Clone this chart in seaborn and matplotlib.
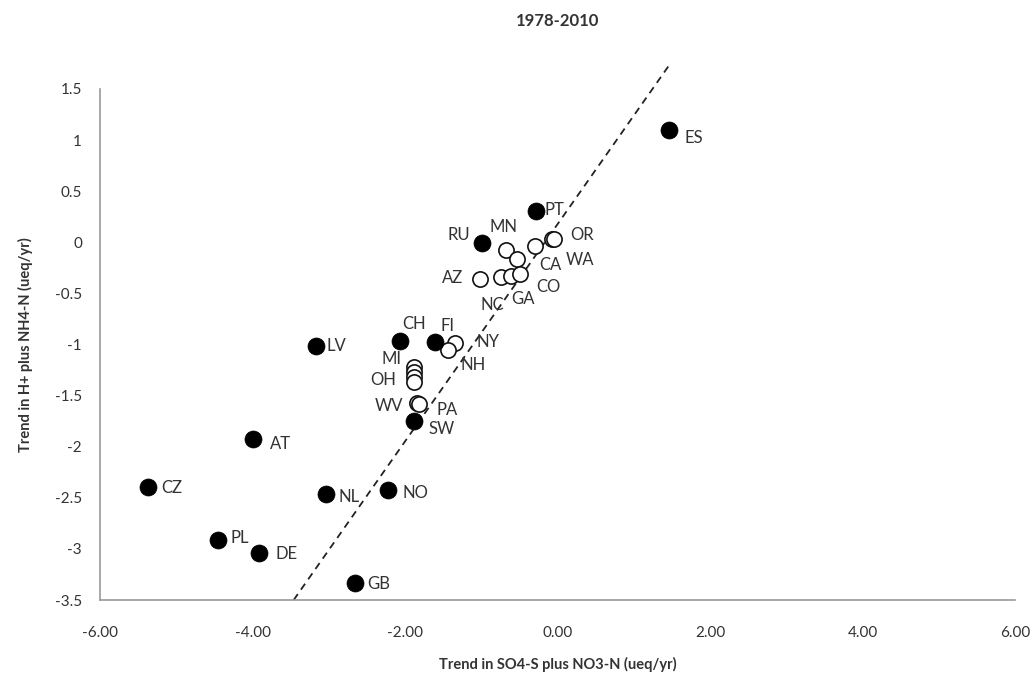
import matplotlib
matplotlib.use("Agg")
import matplotlib.pyplot as plt
import seaborn as sns
import pandas as pd

# Europe (filled) sites
eu_labels = ["ES", "PT", "RU", "LV", "CH", "FI", "SW", "AT", "CZ", "NL", "NO", "PL", "DE", "GB"]
eu_x = [1.46, -0.28, -0.99, -3.17, -2.07, -1.61, -1.88, -4.00, -5.37, -3.04, -2.22, -4.45, -3.91, -2.66]
eu_y = [1.10, 0.31, -0.01, -1.01, -0.97, -0.98, -1.75, -1.92, -2.39, -2.46, -2.42, -2.91, -3.04, -3.33]

# US (open) sites
us_labels = ["MN", "CA", "WA", "OR", "", "AZ", "NC", "GA", "CO", "NY", "NH", "MI", "", "OH", "", "WV", "PA"]
us_x = [-0.67, -0.53, -0.30, -0.07, -0.04, -1.02, -0.74, -0.61, -0.49, -1.34, -1.43, -1.88, -1.88, -1.88, -1.88, -1.84, -1.82]
us_y = [-0.08, -0.16, -0.04, 0.03, 0.03, -0.36, -0.34, -0.33, -0.31, -0.99, -1.05, -1.22, -1.27, -1.32, -1.37, -1.57, -1.58]

# dashed reference line
line_x = [-3.46, 1.49]
line_y = [-3.50, 1.76]

# label offsets in pixels (dx, dy)
offsets = {
    "ES": (25, -8), "PT": (18, 1), "RU": (-23, 8), "LV": (21, 0), "CH": (14, 17),
    "FI": (13, 16), "SW": (27, -8), "AT": (28, -5), "CZ": (24, -1), "NL": (23, -3),
    "NO": (27, -3), "PL": (22, 2), "DE": (27, -1), "GB": (24, -1),
    "MN": (-3, 23), "CA": (33, -6), "WA": (45, -14), "OR": (30, 4), "AZ": (-27, 1),
    "NC": (-9, -28), "GA": (12, -23), "CO": (28, -13), "NY": (33, 1), "NH": (25, -15),
    "MI": (-23, 8), "OH": (-31, -3), "WV": (-28, -3), "PA": (28, -6),
}

df = pd.DataFrame({
    "x": eu_x + us_x,
    "y": eu_y + us_y,
    "label": eu_labels + us_labels,
    "group": ["EU"] * len(eu_x) + ["US"] * len(us_x),
})

sns.set_style("white")
plt.rcParams["font.family"] = ["Lato", "DejaVu Sans"]

fig = plt.figure(figsize=(10.36, 6.89), dpi=100)
ax = fig.add_axes([100 / 1036, 1 - 600 / 689, 915 / 1036, 511 / 689])

ax.plot(line_x, line_y, ls=(0, (4, 3)), color="#222222", lw=1.3, zorder=1, clip_on=False)

sns.scatterplot(data=df[df.group == "US"], x="x", y="y", ax=ax, s=120,
                facecolor="white", edgecolor="#111111", linewidth=1.2, zorder=3, legend=False)
sns.scatterplot(data=df[df.group == "EU"], x="x", y="y", ax=ax, s=150,
                color="black", edgecolor="black", linewidth=0.5, zorder=4, legend=False)

for _, r in df.iterrows():
    if r["label"]:
        dx, dy = offsets[r["label"]]
        ax.annotate(r["label"], (r["x"], r["y"]), xytext=(dx, dy), textcoords="offset pixels",
                    ha="center", va="center", fontsize=12, color="#333333", zorder=5)

ax.set_xlim(-6, 6)
ax.set_ylim(-3.5, 1.5)
ax.set_xticks([-6, -4, -2, 0, 2, 4, 6])
ax.set_xticklabels([f"{v:.2f}" for v in [-6, -4, -2, 0, 2, 4, 6]])
ax.set_yticks([1.5, 1, 0.5, 0, -0.5, -1, -1.5, -2, -2.5, -3, -3.5])
ax.set_yticklabels(["1.5", "1", "0.5", "0", "-0.5", "-1", "-1.5", "-2", "-2.5", "-3", "-3.5"])

for s in ["top", "right"]:
    ax.spines[s].set_visible(False)
for s in ["left", "bottom"]:
    ax.spines[s].set_color("#999999")
    ax.spines[s].set_linewidth(1.2)
ax.tick_params(axis="both", which="both", direction="out", length=5, width=1.1,
               color="#999999", labelsize=11, labelcolor="#333333", pad=8)
ax.tick_params(axis="x", pad=14)

ax.set_xlabel("Trend in SO4-S plus NO3-N (ueq/yr)", fontsize=10.5, fontweight="bold",
              color="#333333", labelpad=12)
ax.set_ylabel("Trend in H+ plus NH4-N (ueq/yr)", fontsize=10.5, fontweight="bold",
              color="#333333", labelpad=16)
ax.set_title("1978-2010", fontsize=12, fontweight="bold", color="#333333", pad=45)

fig.savefig("out.png", dpi=100)
